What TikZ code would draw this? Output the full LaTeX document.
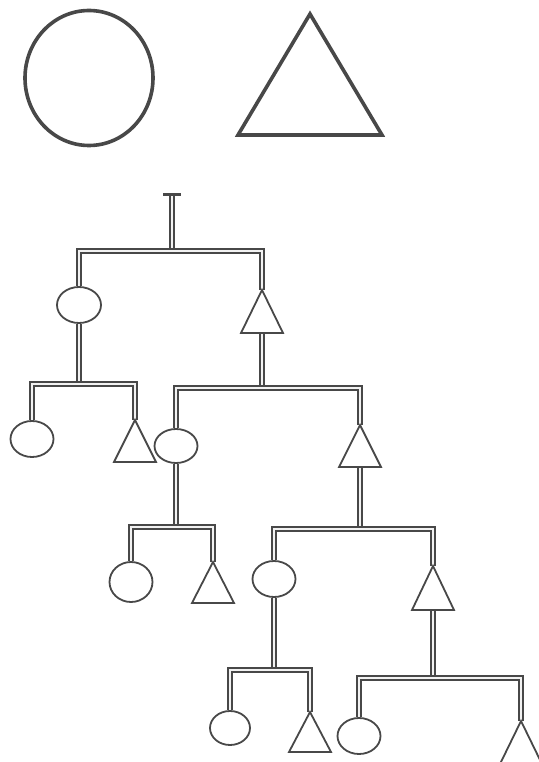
\documentclass[tikz,border=0pt]{standalone}
\usetikzlibrary{shapes.geometric}
\definecolor{ink}{HTML}{484848}
\definecolor{core}{HTML}{F2F2F2}
\pgfdeclarelayer{paper}
\pgfdeclarelayer{links}
\pgfsetlayers{paper,links,main}
\begin{document}
\begin{tikzpicture}[x=1pt,y=-1pt,
  big/.style={draw=ink, line width=3.6pt},
  kin/.style={draw=ink, line width=1.8pt, fill=white, inner sep=0pt},
  fem/.style={kin, ellipse, minimum width=43pt, minimum height=36pt},
  link/.style={draw=ink, line width=1.6pt, double=core, double distance=2.6pt},
]
\begin{pgfonlayer}{paper}
  \fill[white] (0,0) rectangle (538,762);
\end{pgfonlayer}
\useasboundingbox (0,0) rectangle (538,762);

% legend shapes
\node[big, ellipse, minimum width=128pt, minimum height=135pt, inner sep=0pt] (legF) at (89,78) {};
\coordinate (legMa) at (310,14);
\coordinate (legMb) at (310,135);
\draw[big, line join=miter] (legMa) -- ([xshift=-72pt]legMb) -- ([xshift=72pt]legMb) -- cycle;

% females
\node[fem, minimum width=44pt] (C1) at (79,305) {};
\node[fem] (C2) at (32,439) {};
\node[fem, minimum height=34pt] (C3) at (176,446) {};
\node[fem, minimum height=40pt] (C4) at (131,582) {};
\node[fem] (C5) at (274,579) {};
\node[fem, minimum width=40pt, minimum height=34pt] (C6) at (230,728) {};
\node[fem] (C7) at (359,736) {};

% males: apex and base centre
\coordinate (T1a) at (262,290); \coordinate (T1b) at (262,333);
\coordinate (T2a) at (135,420); \coordinate (T2b) at (135,462);
\coordinate (T3a) at (360,425); \coordinate (T3b) at (360,467);
\coordinate (T4a) at (213,562); \coordinate (T4b) at (213,603);
\coordinate (T5a) at (433,566); \coordinate (T5b) at (433,610);
\coordinate (T6a) at (310,712); \coordinate (T6b) at (310,752);
\coordinate (T7a) at (521,721); \coordinate (T7b) at (521,764);
\foreach \t in {T1,T2,T3,T4,T5,T6,T7}
  \draw[kin, line join=miter] (\t a) -- ([xshift=-21pt]\t b) -- ([xshift=21pt]\t b) -- cycle;

% sibling bars
\coordinate (root) at (172,194);
\coordinate (B1) at (172,251);
\coordinate (B2) at (79,384);
\coordinate (B3) at (262,388);
\coordinate (B4) at (176,527);
\coordinate (B5) at (360,529);
\coordinate (B6) at (274,670);
\coordinate (B7) at (433,678);

\begin{pgfonlayer}{links}
  \draw[link] (root) -- (B1);
  \draw[ink, line width=3pt] ([xshift=-9pt]root) -- ([xshift=9pt]root);
  \draw[link] (C1.south) -- (B2);
  \draw[link] (T1b) -- (B3);
  \draw[link] (C3.south) -- (B4);
  \draw[link] (T3b) -- (B5);
  \draw[link] (C5.south) -- (B6);
  \draw[link] (T5b) -- (B7);
  \draw[link] (C1.north) |- (B1) -| (T1a);
  \draw[link] (C2.north) |- (B2) -| (T2a);
  \draw[link] (C3.north) |- (B3) -| (T3a);
  \draw[link] (C4.north) |- (B4) -| (T4a);
  \draw[link] (C5.north) |- (B5) -| (T5a);
  \draw[link] (C6.north) |- (B6) -| (T6a);
  \draw[link] (C7.north) |- (B7) -| (T7a);
\end{pgfonlayer}
\end{tikzpicture}
\end{document}
